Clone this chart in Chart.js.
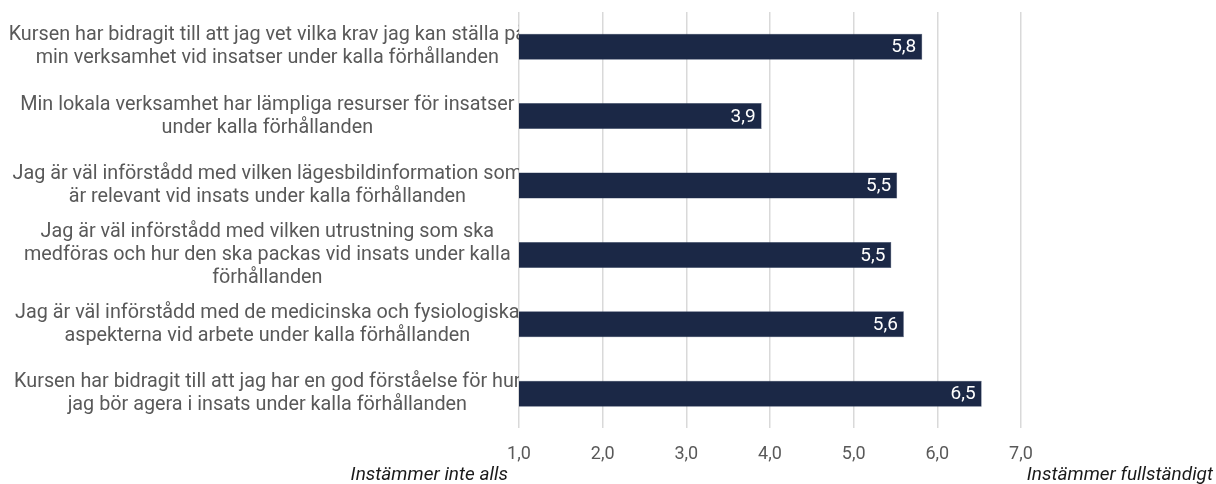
<!DOCTYPE html>
<html>
<head>
<meta charset="utf-8">
<script src="https://cdn.jsdelivr.net/npm/chart.js@4.4.1/dist/chart.umd.min.js"></script>
<style>
  html, body { margin: 0; padding: 0; background: #fff; }
  #wrap { width: 1216px; height: 484px; }
</style>
</head>
<body>
<div id="wrap"><canvas id="chart"></canvas></div>
<script>
const categories = [
    ['Kursen har bidragit till att jag vet vilka krav jag kan ställa på', 'min verksamhet vid insatser under kalla förhållanden'],
    ['Min lokala verksamhet har lämpliga resurser för insatser', 'under kalla förhållanden'],
    ['Jag är väl införstådd med vilken lägesbildinformation som', 'är relevant vid insats under kalla förhållanden'],
    ['Jag är väl införstådd med vilken utrustning som ska', 'medföras och hur den ska packas vid insats under kalla', 'förhållanden'],
    ['Jag är väl införstådd med de medicinska och fysiologiska', 'aspekterna vid arbete under kalla förhållanden'],
    ['Kursen har bidragit till att jag har en god förståelse för hur', 'jag bör agera i insats under kalla förhållanden']
];
const values = [5.82, 3.9, 5.52, 5.45, 5.6, 6.53];
const scaleMin = 1;
const scaleMax = 7;
const axisEnds = ['Instämmer inte alls', 'Instämmer fullständigt'];

const fmt = v => v.toFixed(1).replace('.', ',');

// value labels inside bar ends
const valueLabels = {
    id: 'valueLabels',
    afterDatasetsDraw(chart) {
        const ctx = chart.ctx;
        const meta = chart.getDatasetMeta(0);
        ctx.save();
        ctx.font = '19px Roboto';
        ctx.fillStyle = '#ffffff';
        ctx.textAlign = 'right';
        ctx.textBaseline = 'middle';
        meta.data.forEach((bar, i) => {
            ctx.fillText(fmt(values[i]), bar.x - 6, bar.y + 1);
        });
        ctx.restore();
    }
};

// captions under the ends of the x axis
const endCaptions = {
    id: 'endCaptions',
    afterDraw(chart) {
        const ctx = chart.ctx;
        const x = chart.scales.x;
        ctx.save();
        ctx.font = 'italic 19px Roboto';
        ctx.fillStyle = '#1a1a1a';
        ctx.textAlign = 'right';
        ctx.textBaseline = 'middle';
        const y = x.bottom - 5;
        ctx.fillText(axisEnds[0], x.getPixelForValue(scaleMin) - 11, y);
        ctx.fillText(axisEnds[1], chart.width - 3, y);
        ctx.restore();
    }
};

new Chart(document.getElementById('chart'), {
    type: 'bar',
    data: {
        labels: categories,
        datasets: [{
            data: values,
            backgroundColor: '#1b2846',
            borderColor: '#3a4866',
            borderWidth: 0.5,
            barPercentage: 0.375,
            categoryPercentage: 1
        }]
    },
    options: {
        indexAxis: 'y',
        responsive: true,
        maintainAspectRatio: false,
        animation: false,
        layout: { padding: { top: 12, right: 195, bottom: 4, left: 0 } },
        plugins: { legend: { display: false }, tooltip: { enabled: false } },
        scales: {
            x: {
                min: scaleMin,
                max: scaleMax,
                grid: { color: '#d9d9d9', lineWidth: 1.5, drawTicks: false },
                border: { display: false },
                ticks: {
                    stepSize: 1,
                    padding: 15,
                    color: '#595959',
                    font: { family: 'Roboto', size: 18 },
                    callback: v => fmt(v)
                }
            },
            y: {
                grid: { display: false },
                border: { display: false },
                afterFit: scale => {
                    scale.width = 519;
                    scale.paddingTop = 0;
                    scale.paddingBottom = 0;
                },
                ticks: {
                    z: 1,
                    autoSkip: false,
                    crossAlign: 'center',
                    padding: -15,
                    color: '#595959',
                    font: { family: 'Roboto', size: 19.8, lineHeight: 1.16 }
                }
            }
        }
    },
    plugins: [valueLabels, endCaptions]
});
</script>
</body>
</html>
